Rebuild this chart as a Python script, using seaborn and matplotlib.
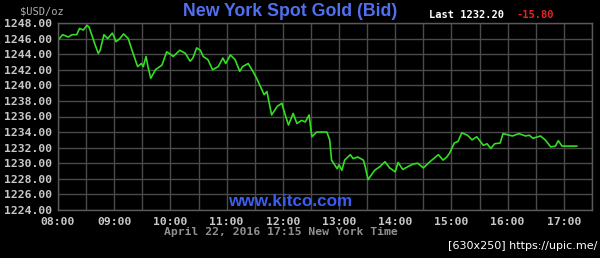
import matplotlib
matplotlib.use("Agg")
import matplotlib.pyplot as plt
import matplotlib.dates as mdates
import seaborn as sns
import pandas as pd

times = ["08:00","08:05","08:11","08:15","08:20","08:23","08:27","08:31","08:33","08:36",
         "08:39","08:43","08:45","08:49","08:53","08:58","09:02","09:06","09:10","09:15",
         "09:19","09:25","09:29","09:31","09:34","09:36","09:39","09:44","09:51","09:56",
         "10:00","10:03","10:10","10:16","10:21","10:24","10:28","10:32","10:35","10:40",
         "10:45","10:51","10:56","10:59","11:04","11:09","11:14","11:17","11:23","11:28",
         "11:32","11:37","11:40","11:43","11:48","11:54","11:59","12:01","12:06","12:11",
         "12:15","12:20","12:24","12:28","12:31","12:36","12:42","12:47","12:50","12:52",
         "12:58","13:00","13:03","13:06","13:12","13:15","13:20","13:26","13:28","13:31",
         "13:38","13:44","13:49","13:54","14:00","14:03","14:08","14:14","14:19","14:24",
         "14:30","14:37","14:46","14:51","14:55","14:58","15:03","15:07","15:11","15:17",
         "15:22","15:27","15:34","15:38","15:42","15:46","15:52","15:55","16:05","16:12",
         "16:19","16:23","16:27","16:35","16:40","16:46","16:51","16:54","16:58","17:05",
         "17:14"]
prices = [1245.8,1246.5,1246.2,1246.5,1246.5,1247.3,1247.1,1247.7,1247.5,1246.5,
          1245.4,1244.1,1244.5,1246.5,1246.0,1246.7,1245.6,1246.0,1246.6,1246.0,
          1244.5,1242.4,1242.8,1242.4,1243.7,1242.4,1240.9,1242.0,1242.6,1244.3,
          1244.0,1243.7,1244.5,1244.1,1243.1,1243.5,1244.8,1244.5,1243.7,1243.3,
          1242.0,1242.4,1243.5,1242.8,1243.9,1243.3,1241.8,1242.4,1242.8,1241.8,
          1240.9,1239.6,1238.8,1239.2,1236.2,1237.3,1237.7,1236.8,1234.9,1236.4,
          1235.1,1235.5,1235.3,1236.2,1233.4,1234.0,1234.0,1234.0,1233.0,1230.4,
          1229.3,1229.8,1229.1,1230.4,1231.1,1230.6,1230.8,1230.4,1229.5,1227.9,
          1229.1,1229.6,1230.2,1229.4,1228.9,1230.1,1229.2,1229.6,1229.9,1230.0,
          1229.4,1230.2,1231.1,1230.4,1230.8,1231.3,1232.6,1232.8,1233.9,1233.6,
          1233.0,1233.4,1232.3,1232.5,1231.9,1232.5,1232.6,1233.8,1233.5,1233.8,
          1233.5,1233.6,1233.2,1233.5,1233.0,1232.1,1232.2,1232.9,1232.2,1232.2,
          1232.2]
y_ticks = [1224, 1226, 1228, 1230, 1232, 1234, 1236, 1238, 1240, 1242, 1244, 1246, 1248]
date_str = "2016-04-22"
title = "New York Spot Gold (Bid)"
last_label = "Last 1232.20"
change_label = "-15.80"

df = pd.DataFrame({"time": pd.to_datetime([f"{date_str} {t}" for t in times]),
                   "price": prices})

sns.set_style("dark")
plt.rcParams["font.family"] = ["DejaVu Sans"]

fig = plt.figure(figsize=(6.0, 2.58), dpi=100, facecolor="black")
ax = fig.add_axes([58/600, 1-210/258, (592-58)/600, (210-23)/258])
ax.set_facecolor("black")

sns.lineplot(data=df, x="time", y="price", ax=ax, color="#33dd22", linewidth=1.2)

ax.set_xlim(pd.Timestamp(f"{date_str} 08:00"), pd.Timestamp(f"{date_str} 17:30"))
ax.set_ylim(1224, 1248)
ax.set_yticks(y_ticks)
ax.set_yticklabels([f"{v:.2f}" for v in y_ticks])
ax.xaxis.set_major_locator(mdates.HourLocator())
ax.xaxis.set_major_formatter(mdates.DateFormatter("%H:%M"))
ax.xaxis.set_minor_locator(mdates.MinuteLocator(byminute=[30]))

ax.grid(True, which="both", color="#4a4a4a", linewidth=1.0)
ax.set_axisbelow(True)
for s in ax.spines.values():
    s.set_visible(True)
    s.set_color("#5a5a5a")
    s.set_linewidth(1.0)

mono = "DejaVu Sans Mono"
ax.tick_params(axis="both", which="both", length=0)
ax.tick_params(axis="y", pad=4)
ax.tick_params(axis="x", pad=5)
for lab in ax.get_yticklabels():
    lab.set_fontfamily(mono); lab.set_fontweight("bold"); lab.set_fontsize(8.2); lab.set_color("#c8c8c8")
for lab in ax.get_xticklabels():
    lab.set_fontfamily(mono); lab.set_fontweight("bold"); lab.set_fontsize(8.2); lab.set_color("#c8c8c8")
ax.set_xlabel("")
ax.set_ylabel("")

fig.text(290/600, 1-12/258, title, color="#5070ee", fontsize=12.8, fontweight="bold",
         family="Liberation Sans", ha="center", va="center")
fig.text(20/600, 1-11/258, "$USD/oz", color="#b0b0b0", fontsize=7.5, family=mono,
         ha="left", va="center")
fig.text(429/600, 1-15/258, last_label, color="white", fontsize=7.5, family=mono,
         fontweight="bold", ha="left", va="center")
fig.text(517/600, 1-15/258, change_label, color="#ee2222", fontsize=7.5, family=mono,
         fontweight="bold", ha="left", va="center")
fig.text(290/600, 1-202/258, "www.kitco.com", color="#3a5ef0", fontsize=12.3,
         fontweight="bold", family="Liberation Sans", ha="center", va="center")
fig.text(281/600, 1-232/258, "April 22, 2016 17:15 New York Time", color="#909090",
         fontsize=8.2, family=mono, fontweight="bold", ha="center", va="center")
fig.text(597/600, 1-246/258, "[630x250] https://upic.me/", color="white",
         fontsize=8, ha="right", va="center")

fig.savefig("out.png", dpi=100, facecolor="black")
